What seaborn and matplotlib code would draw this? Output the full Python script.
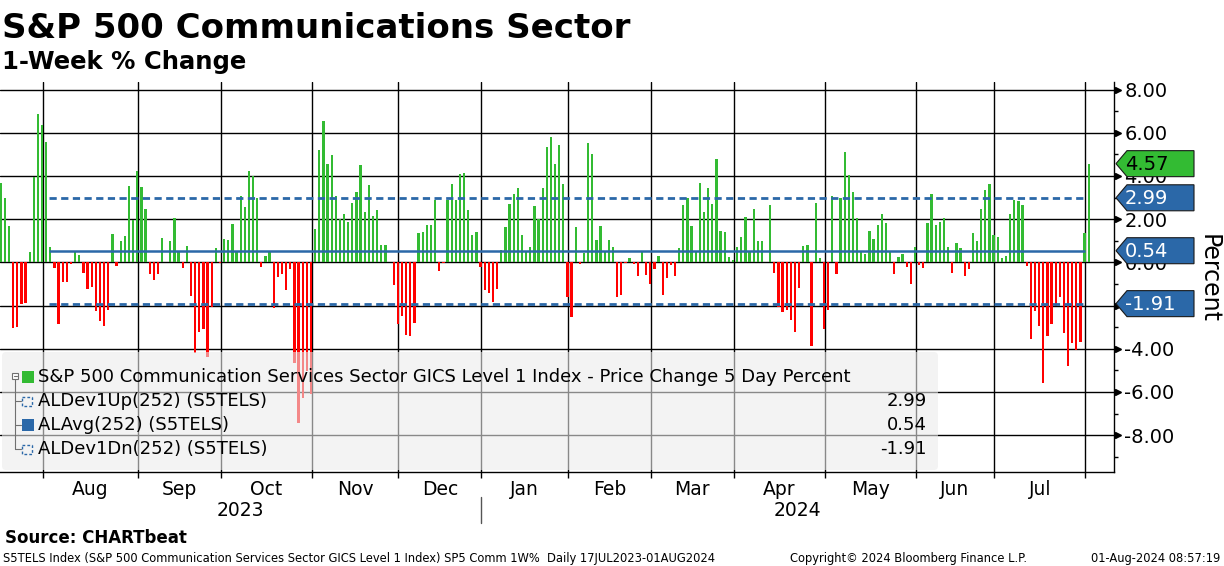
import numpy as np
import pandas as pd
import matplotlib
matplotlib.use("Agg")
import matplotlib.pyplot as plt
from matplotlib.patches import Polygon, Rectangle, FancyBboxPatch
import seaborn as sns

# ---- data ----
start_date = "2023-07-17"
end_date = "2024-08-01"
holidays = ["2023-09-04", "2023-11-23", "2023-12-25", "2024-01-01", "2024-01-15",
            "2024-02-19", "2024-03-29", "2024-05-27", "2024-06-19", "2024-07-04"]

week_chg = [
    3.66, 2.98, 1.70, -3.06, -2.98, -1.93, -1.87, 0.46, 3.97, 6.88,
    6.37, 5.58, 0.71, -0.28, -2.83, -0.93, -0.90, -0.06, 0.54, 0.34,
    -0.48, -1.25, -1.16, -2.24, -2.70, -2.94, -2.21, 1.31, -0.15, 0.99,
    1.22, 3.54, 1.96, 4.23, 3.49, 2.47, -0.53, -0.80, -0.53, 1.13,
    0.03, 0.99, 2.07, 0.54, -0.28, 0.77, -1.55, -4.19, -3.21, -3.08,
    -4.40, -2.06, 0.68, -0.03, 1.08, 1.04, 1.78, 0.48, 3.08, 2.57,
    4.23, 3.99, 2.98, -0.20, 0.29, 0.53, -2.10, -0.66, -0.53, -1.27,
    -0.29, -4.65, -7.43, -6.27, -5.02, -6.11, 1.55, 5.21, 6.55, 4.56,
    4.98, 3.08, 2.01, 2.24, 1.87, 2.75, 3.26, 4.51, 2.33, 3.59,
    2.15, 2.43, 0.80, 0.80, 0.03, -1.04, -2.87, -2.46, -3.34, -3.43,
    -2.80, 1.36, 1.41, 1.73, 1.73, 2.89, -0.39, -0.05, 2.89, 3.63,
    2.89, 4.10, 4.14, 2.43, 1.27, 1.41, -0.20, -1.28, -1.41, -1.84,
    -1.22, 0.57, 1.64, 2.70, 3.17, 3.45, 1.27, 0.48, 0.71, 2.61,
    2.01, 3.45, 5.36, 5.81, 4.56, 5.44, 3.63, -1.59, -2.52, 1.64,
    -0.06, 0.43, 5.53, 5.02, 1.04, 1.68, 0.53, 1.04, 0.71, -1.59,
    -1.50, -0.03, 0.20, -0.06, -0.62, 0.53, -0.57, -0.99, -0.29, 0.29,
    -1.50, -0.71, -0.11, -0.62, 0.66, 2.66, 2.98, 1.68, 0.48, 3.68,
    2.33, 3.45, 2.70, 4.79, 1.45, 1.41, 0.25, 0.11, 0.71, 1.17,
    2.10, 0.53, 2.47, 0.99, 0.99, 0.03, 2.66, -0.48, -2.06, -2.29,
    -2.19, -2.66, -3.21, -1.17, 0.76, 0.80, -3.86, 2.75, 0.20, -3.08,
    -2.19, 3.08, -0.53, 2.98, 5.12, 4.05, 3.26, 2.06, 0.48, 0.39,
    1.45, 1.08, 1.73, 2.24, 1.82, 0.53, -0.53, 0.25, 0.39, -0.20,
    -0.99, 0.71, -0.11, -0.25, 1.82, 3.17, 1.73, 1.87, 2.06, 0.71,
    -0.48, 0.90, 0.66, -0.62, -0.29, 1.36, 0.99, 2.47, 3.35, 3.63,
    1.27, 1.17, 0.20, 0.29, 2.24, 2.89, 2.84, 2.66, -0.15, -3.54,
    -2.24, -2.94, -5.58, -3.40, -2.84, -2.01, -1.59, -3.26, -4.79, -3.72,
    -4.05, -3.68, 1.36, 4.57,
]

dev_up = 2.99
avg_252 = 0.54
dev_dn = -1.91
window = 252

month_labels = ["Aug", "Sep", "Oct", "Nov", "Dec", "Jan", "Feb", "Mar", "Apr", "May", "Jun", "Jul"]
year_labels = ["2023", "2024"]
y_ticks = [8, 6, 4, 2, 0, -2, -4, -6, -8]

legend_main = "S&P 500 Communication Services Sector GICS Level 1 Index - Price Change 5 Day Percent"
legend_rows = ["ALDev1Up(252) (S5TELS)", "ALAvg(252) (S5TELS)", "ALDev1Dn(252) (S5TELS)"]

GREEN = "#33bb33"
RED = "#ff0000"
BLUE = "#2b68a8"

days = pd.bdate_range(start_date, end_date, freq="C", holidays=holidays)
df = pd.DataFrame({"date": days, "chg": week_chg})
df["pos"] = np.arange(len(df))
df["dir"] = np.where(df["chg"] >= 0, "up", "down")

# last trading day of each month -> Bloomberg month separators
month_last = df.groupby(df["date"].dt.to_period("M"))["pos"].max().values[:-1] + 0.15
month_mid = (month_last[:-1] + month_last[1:]) / 2

sns.set_theme(style="white")
plt.rcParams["font.family"] = ["DejaVu Sans"]
plt.rcParams["text.color"] = "black"
plt.rcParams["xtick.color"] = "black"
plt.rcParams["ytick.color"] = "black"
plt.rcParams["axes.labelcolor"] = "black"

W, H = 1224, 566
fig = plt.figure(figsize=(W / 100, H / 100), dpi=100)
ax = fig.add_axes([0, (H - 471.7) / H, 1114 / W, (471.7 - 82) / H])

for v in y_ticks:
    ax.axhline(v, color="black", lw=1, zorder=1)
for b in month_last:
    ax.axvline(b, color="black", lw=1, zorder=1)

sns.barplot(data=df, x="pos", y="chg", hue="dir", palette={"up": GREEN, "down": RED},
            native_scale=True, width=0.55, dodge=False, legend=False, errorbar=None,
            saturation=1, linewidth=0, ax=ax, zorder=2)

n = len(df)
x0, x1 = n - window - 0.3, n - 1.8
ax.hlines([dev_up, dev_dn], x0, x1, colors=BLUE, lw=2, linestyles=(0, (2.6, 1.6)), zorder=3)
ax.hlines(avg_252, x0, x1, colors=BLUE, lw=1.8, zorder=3)

ax.set_xlim(-0.17, 269.1)
ax.set_ylim(-9.69, 8.35)
ax.set_xlabel("")
ax.set_ylabel("")

# x axis: month separators + month names in between
ax.set_xticks(month_last)
ax.set_xticklabels([])
ax.set_xticks(month_mid, minor=True)
ax.set_xticklabels(month_labels, minor=True, fontsize=13.5, color="black")
ax.tick_params(axis="x", which="major", direction="out", length=4, width=1, color="black", bottom=True)
ax.tick_params(axis="x", which="minor", length=0, pad=6)

# right y axis
ax.yaxis.tick_right()
ax.set_yticks(y_ticks)
ax.set_yticklabels([f"{v:.2f}" for v in y_ticks], fontsize=14, color="black")
ax.set_yticks(np.arange(-9, 9, 2), minor=True)
ax.tick_params(axis="y", which="major", length=4.5, width=1, color="black", pad=3, right=True, left=False)
ax.tick_params(axis="y", which="minor", length=3, width=1, color="black", right=True, left=False)
ax.plot([1.004] * len(y_ticks), y_ticks, ">", color="black", ms=4.5,
        transform=ax.get_yaxis_transform(), clip_on=False)

for s in ["left", "top"]:
    ax.spines[s].set_visible(False)
for s in ["right", "bottom"]:
    ax.spines[s].set_color("black")
    ax.spines[s].set_linewidth(1)

# overlay in pixel coordinates for Bloomberg decorations
ov = fig.add_axes([0, 0, 1, 1], zorder=10)
ov.set_xlim(0, W)
ov.set_ylim(H, 0)
ov.axis("off")


def px_y(v):
    return H - ax.transData.transform((0, v))[1]


def px_x(v):
    return ax.transData.transform((v, 0))[0]


# legend box (semi transparent like the original)
ov.add_patch(FancyBboxPatch((2, 352), 936, 118, boxstyle="round,pad=0,rounding_size=4",
                            fc="#ebebeb", ec="none", alpha=0.58))
row_y = [377, 401, 425, 449]
ov.add_patch(Rectangle((12, 373), 6, 6, fc="white", ec="#707070", lw=0.8))
ov.plot([13.5, 16.5], [376, 376], color="#707070", lw=0.8)
ov.plot([15, 15], [379, row_y[-1]], color="#707070", lw=0.8)
for ry in row_y[1:]:
    ov.plot([15, 21], [ry, ry], color="#707070", lw=0.8)
ov.add_patch(Rectangle((22, 371), 12, 12, fc=GREEN, ec="none"))
ov.add_patch(Rectangle((22, row_y[1] - 4), 10, 9, fc="none", ec=BLUE, lw=1, ls=(0, (2, 1.5))))
ov.add_patch(Rectangle((22, row_y[2] - 6), 12, 12, fc=BLUE, ec="none"))
ov.add_patch(Rectangle((22, row_y[3] - 4), 10, 9, fc="none", ec=BLUE, lw=1, ls=(0, (2, 1.5))))
ov.text(38, row_y[0], legend_main, fontsize=13, va="center", ha="left")
for ry, lab, val in zip(row_y[1:], legend_rows, [dev_up, avg_252, dev_dn]):
    ov.text(38, ry, lab, fontsize=13, va="center", ha="left")
    ov.text(927, ry, f"{val:.2f}", fontsize=13, va="center", ha="right")

# value tags on the right axis
for v, fc, tc in [(week_chg[-1], GREEN, "black"), (dev_up, BLUE, "white"),
                  (avg_252, BLUE, "white"), (dev_dn, BLUE, "white")]:
    py = px_y(v)
    ov.add_patch(Polygon([(1116, py), (1127, py - 13), (1194, py - 13), (1194, py + 13), (1127, py + 13)],
                         closed=True, fc=fc, ec="#1a1a1a", lw=0.8))
    ov.text(1125, py + 1, f"{v:.2f}", fontsize=14, color=tc, va="center", ha="left")

ov.text(1209, 279, "Percent", fontsize=17, rotation=270, va="center", ha="center")

# years under the months
year_split = px_x(month_last[5])
ax_left, ax_right = px_x(-0.17), px_x(269.1)
ov.plot([year_split, year_split], [497, 523], color="#555555", lw=1)
ov.text((ax_left + year_split) / 2, 511, year_labels[0], fontsize=13.5, ha="center", va="center")
ov.text((year_split + ax_right) / 2, 511, year_labels[1], fontsize=13.5, ha="center", va="center")

# titles and footer
ov.text(2, 38, "S&P 500 Communications Sector", fontsize=24.5, fontweight="bold", va="baseline")
ov.text(2, 69, "1-Week % Change", fontsize=17.5, fontweight="bold", va="baseline")
ov.text(5, 543, "Source: CHARTbeat", fontsize=12, fontweight="bold", va="baseline")
ov.text(3, 562, "S5TELS Index (S&P 500 Communication Services Sector GICS Level 1 Index) SP5 Comm 1W%  Daily 17JUL2023-01AUG2024",
        fontsize=8.3, va="baseline")
ov.text(790, 562, "Copyright\u00a9 2024 Bloomberg Finance L.P.", fontsize=8.3, va="baseline")
ov.text(1220, 562, "01-Aug-2024 08:57:19", fontsize=8.3, va="baseline", ha="right")

fig.savefig("out.png", dpi=100)
plt.close(fig)
